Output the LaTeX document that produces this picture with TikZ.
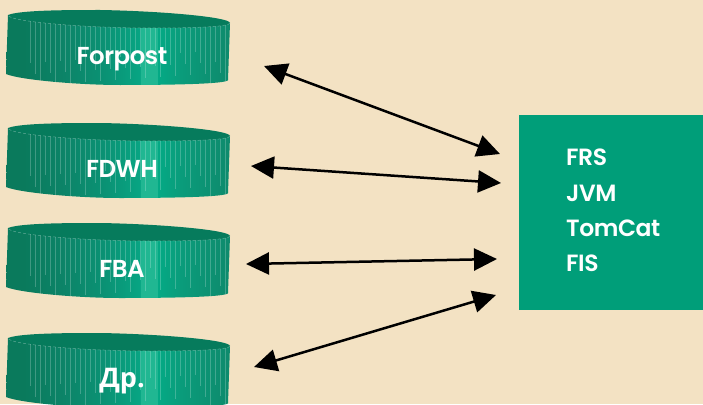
\documentclass[tikz,border=0pt]{standalone}
\usepackage{fontspec}
\setmainfont{Poppins SemiBold}
\newfontfamily\cyrfont{Open Sans}
\usetikzlibrary{arrows.meta}
\definecolor{bgcream}{HTML}{F3E2C3}
\definecolor{boxgreen}{HTML}{009E79}
\definecolor{topgreen}{HTML}{067B5C}
\definecolor{drA}{HTML}{0A7A5C}
\definecolor{drB}{HTML}{0C8468}
\definecolor{drC}{HTML}{0A9274}
\definecolor{drD}{HTML}{08A583}
\definecolor{drE}{HTML}{20B792}
\definecolor{drF}{HTML}{04AA85}
\definecolor{drG}{HTML}{0A9C7B}
\definecolor{drH}{HTML}{0E8A6C}
\pgfdeclarehorizontalshading{drumshade}{100bp}{
  color(0bp)=(drA); color(25bp)=(drA); color(29bp)=(drA); color(38bp)=(drB);
  color(47bp)=(drC); color(54.9bp)=(drD); color(55bp)=(drE); color(58.7bp)=(drE);
  color(58.8bp)=(drF); color(64bp)=(drG); color(75bp)=(drH); color(100bp)=(drH)}
\tikzset{
  x=1pt,y=-1pt,
  drumlabel/.style={text=white,font=\fontsize{24.5}{25}\selectfont\addfontfeatures{LetterSpace=-2},anchor=base,inner sep=0pt},
  boxlabel/.style={text=white,font=\fontsize{23.5}{35.3}\selectfont\addfontfeatures{LetterSpace=-2},anchor=north west,align=left,inner sep=0pt},
  bidir/.style={{Triangle[length=23pt,width=22pt]}-{Triangle[length=23pt,width=22pt]},line width=2.5pt,black},
  mainbox/.style={fill=boxgreen,draw=none,inner sep=0pt,anchor=north west,minimum width=190pt,minimum height=195pt},
  stripe/.style={white,opacity=.22,line width=.6pt}
}
\newcommand{\drumshape}[3]{%
  \begin{scope}[yshift=-#1pt]
    \begin{scope}
      \clip (8,15) -- (6,74) .. controls (20,80) and (80,85) .. (120,85)
            .. controls (170,85) and (228,84) .. (228,80) -- (230,23) -- cycle;
      \shade[shading=drumshade] (6,8) rectangle (230,88);
      \foreach \sx [count=\si] in {30,35,...,226}{
        \pgfmathsetmacro{\sy}{int(52+mod(\si*11,34))}
        \draw[stripe] (\sx,18) -- (\sx,\sy);
      }
    \end{scope}
    \fill[topgreen] (8,15) .. controls (20,10) and (70,10) .. (100,10)
      .. controls (160,11) and (230,17) .. (230,23)
      .. controls (230,27) and (190,28) .. (150,28)
      .. controls (90,28) and (8,22) .. (8,15) -- cycle;
    \draw[white,opacity=.35,line width=.5pt,dash pattern=on 3pt off 2pt]
      (230,23) .. controls (230,27) and (190,28) .. (150,28)
      .. controls (90,28) and (8,22) .. (8,15);
    \node[drumlabel] (#2) at (122,64) {#3};
  \end{scope}}
\begin{document}
\begin{tikzpicture}
\useasboundingbox (0,0) rectangle (703,404);
\fill[bgcream] (0,0) rectangle (703,404);
\begin{scope}
\clip (0,0) rectangle (703,404);
\drumshape{0}{forpost}{Forpost}
\drumshape{113}{fdwh}{FDWH}
\drumshape{213}{fba}{FBA}
\drumshape{323}{drugie}{{\cyrfont\bfseries\fontsize{27}{27}\selectfont Др.}}
\end{scope}
\node[mainbox] (box) at (519,115) {};
\node[boxlabel] (boxtext) at (566,149) {FRS\\JVM\\TomCat\\FIS};
\coordinate (a1) at (264,66);  \coordinate (b1) at (500,154);
\coordinate (a2) at (251,166); \coordinate (b2) at (501,183);
\coordinate (a3) at (246,264); \coordinate (b3) at (497,259);
\coordinate (a4) at (254,367); \coordinate (b4) at (496,295);
\draw[bidir] (a1) -- (b1);
\draw[bidir] (a2) -- (b2);
\draw[bidir] (a3) -- (b3);
\draw[bidir] (a4) -- (b4);
\end{tikzpicture}
\end{document}
